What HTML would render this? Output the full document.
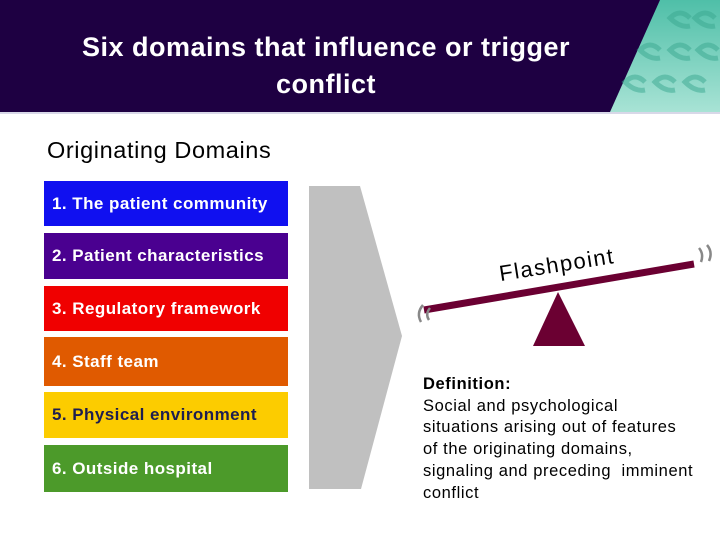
<!DOCTYPE html>
<html><head><meta charset="utf-8"><style>
body{margin:0;width:720px;height:540px;overflow:hidden;background:#fff;font-family:"Liberation Sans",Arial,sans-serif;position:relative}
.h{position:absolute;left:0;top:0;width:720px;height:112px;background:#1e0042}
.t{position:absolute;left:0;width:652px;top:29px;text-align:center;color:#fff;font-weight:bold;font-size:27px;letter-spacing:0.5px;line-height:37px}
.b{position:absolute;left:44px;width:244px;color:#fff;font-weight:bold;font-size:17px;letter-spacing:0.45px;box-sizing:border-box;padding-left:8px;display:flex;align-items:center;white-space:nowrap}
.d{position:absolute;left:423px;top:374px;font-size:16.5px;letter-spacing:0.6px;line-height:21.7px;color:#000;white-space:nowrap}
</style></head><body>
<div class="h"></div>
<svg style="position:absolute;left:0;top:0" width="720" height="540">
<defs><linearGradient id="g" x1="0" y1="0" x2="0" y2="1"><stop offset="0" stop-color="#4fbfa8"/><stop offset="1" stop-color="#a8e3d5"/></linearGradient></defs>
<polygon points="660,0 720,0 720,112 610,112" fill="url(#g)"/>
<g fill="none" stroke="#3aa890" stroke-width="5" opacity="0.5">
<path d="M690,18 q-10,-10 -20,0 q10,10 20,8"/><path d="M715,18 q-10,-10 -20,0 q10,10 20,8"/>
<path d="M660,50 q-10,-10 -20,0 q10,10 20,8"/><path d="M690,50 q-10,-10 -20,0 q10,10 20,8"/><path d="M718,50 q-10,-10 -20,0 q10,10 20,8"/>
<path d="M645,82 q-10,-10 -20,0 q10,10 20,8"/><path d="M675,82 q-10,-10 -20,0 q10,10 20,8"/><path d="M705,82 q-10,-10 -20,0 q10,10 20,8"/>
</g>
<line x1="0" y1="113" x2="720" y2="113" stroke="#d8d8e8" stroke-width="2"/>
<polygon points="309,186 360,186 402,336 361,489 309,489" fill="#c0c0c0"/>
<line x1="424" y1="310" x2="694" y2="264" stroke="#6b0032" stroke-width="7"/>
<polygon points="558,292 533,346 585,346" fill="#6b0032"/>
<text x="558" y="272" transform="rotate(-9 558 272)" text-anchor="middle" font-family="Liberation Sans,sans-serif" font-size="22" letter-spacing="1.5" fill="#000">Flashpoint</text>
<g fill="none" stroke="#888" stroke-width="2.5">
<path d="M423,305 q-7,8 -2,17"/><path d="M430,308 q-5,6 -1,12"/>
<path d="M699,248 q5,6 2,14"/><path d="M707,245 q6,7 2,16"/>
</g>
</svg>
<div class="t">Six domains that influence or trigger<br>conflict</div>
<div style="position:absolute;left:47px;top:137px;font-size:23.5px;letter-spacing:0.6px">Originating Domains</div>
<div class="b" style="top:181px;height:45px;background:#1010f0">1. The patient community</div>
<div class="b" style="top:233px;height:46px;background:#4a0090">2. Patient characteristics</div>
<div class="b" style="top:286px;height:45px;background:#f00000">3. Regulatory framework</div>
<div class="b" style="top:337px;height:49px;background:#e05a00">4. Staff team</div>
<div class="b" style="top:392px;height:46px;background:#fccc00;color:#1e1e50">5. Physical environment</div>
<div class="b" style="top:445px;height:47px;background:#4c9a2a">6. Outside hospital</div>
<div class="d"><b>Definition:</b><br>Social and psychological<br>situations arising out of features<br>of the originating domains,<br>signaling and preceding&nbsp; imminent<br>conflict</div>
</body></html>
